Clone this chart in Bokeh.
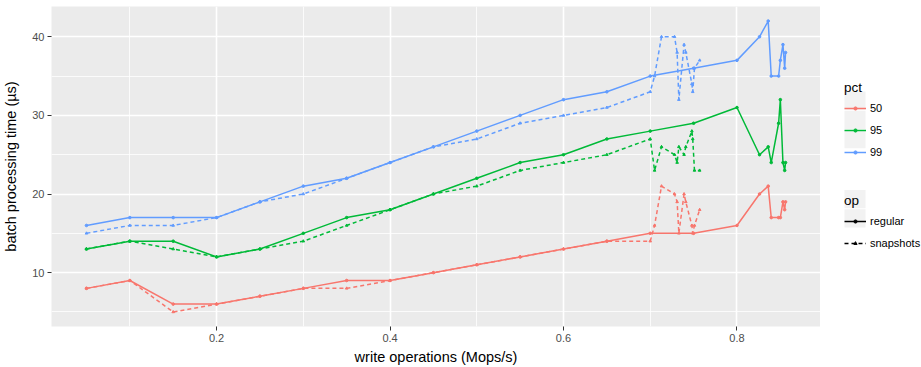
from bokeh.plotting import figure
from bokeh.layouts import row
from bokeh.models import Range1d, Legend, LegendItem, FixedTicker, ColumnDataSource
from bokeh.embed import file_html
from bokeh.resources import INLINE

# ---------------- data ----------------
pcts = ["50", "95", "99"]
ops = ["regular", "snapshots"]

x_regular = [0.05, 0.10, 0.15, 0.20, 0.25, 0.30, 0.35, 0.40, 0.45, 0.50, 0.55, 0.60,
             0.65, 0.70, 0.75, 0.80, 0.826, 0.836, 0.8395, 0.848, 0.850, 0.853, 0.855, 0.856]
p50_regular = [8, 9, 6, 6, 7, 8, 9, 9, 10, 11, 12, 13, 14, 15, 15, 16, 20, 21, 17, 17, 17, 19, 18, 19]
p95_regular = [13, 14, 14, 12, 13, 15, 17, 18, 20, 22, 24, 25, 27, 28, 29, 31, 25, 26, 24, 29, 32, 24, 23, 24]
p99_regular = [16, 17, 17, 17, 19, 21, 22, 24, 26, 28, 30, 32, 33, 35, 36, 37, 40, 42, 35, 35, 37, 39, 36, 38]

x_snapshots = [0.05, 0.10, 0.15, 0.20, 0.25, 0.30, 0.35, 0.40, 0.45, 0.50, 0.55, 0.60,
               0.65, 0.70, 0.705, 0.713, 0.728, 0.731, 0.733, 0.739, 0.741, 0.748, 0.749, 0.751, 0.757]
p50_snapshots = [8, 9, 5, 6, 7, 8, 8, 9, 10, 11, 12, 13, 14, 14, 16, 21, 20, 19, 15, 20, 19, 16, 15, 16, 18]
p95_snapshots = [13, 14, 13, 12, 13, 14, 16, 18, 20, 21, 23, 24, 25, 27, 23, 26, 25, 24, 26, 25, 26, 28, 27, 23, 23]
p99_snapshots = [15, 16, 16, 17, 19, 20, 22, 24, 26, 27, 29, 30, 31, 33, 35, 40, 40, 38, 32, 39, 38, 34, 33, 36, 37]

x_ticks = [0.2, 0.4, 0.6, 0.8]
x_minor = [0.1, 0.3, 0.5, 0.7]
y_ticks = [10, 20, 30, 40]
y_minor = [5, 15, 25, 35]

colors = {"50": "#F8766D", "95": "#00BA38", "99": "#619CFF"}
series = {
    ("50", "regular"): (x_regular, p50_regular),
    ("95", "regular"): (x_regular, p95_regular),
    ("99", "regular"): (x_regular, p99_regular),
    ("50", "snapshots"): (x_snapshots, p50_snapshots),
    ("95", "snapshots"): (x_snapshots, p95_snapshots),
    ("99", "snapshots"): (x_snapshots, p99_snapshots),
}

# ggplot-like 5% expansion
all_x = x_regular + x_snapshots
all_y = p50_regular + p95_regular + p99_regular + p50_snapshots + p95_snapshots + p99_snapshots
xr = max(all_x) - min(all_x)
yr = max(all_y) - min(all_y)

FONT = "Liberation Sans"
DASH = "4 3"
PT = 2.6

p = figure(width=820, height=367, output_backend="svg", toolbar_location=None,
           x_range=Range1d(min(all_x) - 0.05 * xr, max(all_x) + 0.05 * xr),
           y_range=Range1d(min(all_y) - 0.05 * yr, max(all_y) + 0.05 * yr),
           min_border_left=49, min_border_right=0, min_border_top=6, min_border_bottom=37)

p.background_fill_color = "#EBEBEB"
p.border_fill_color = "white"
p.outline_line_color = None

p.xaxis.ticker = FixedTicker(ticks=x_ticks, minor_ticks=x_minor)
p.yaxis.ticker = FixedTicker(ticks=y_ticks, minor_ticks=y_minor)
p.xaxis.major_label_overrides = {0.2: "0.2", 0.4: "0.4", 0.6: "0.6", 0.8: "0.8"}

for ax in (p.xaxis, p.yaxis):
    ax.axis_line_color = None
    ax.major_tick_in = 0
    ax.major_tick_out = 4
    ax.major_tick_line_color = "#333333"
    ax.major_tick_line_width = 1
    ax.minor_tick_in = 0
    ax.minor_tick_out = 0
    ax.major_label_text_font = FONT
    ax.major_label_text_font_size = "11px"
    ax.major_label_text_color = "#4D4D4D"
    ax.axis_label_text_font = FONT
    ax.axis_label_text_font_size = "14.5px"
    ax.axis_label_text_font_style = "normal"
    ax.axis_label_text_color = "black"

p.xaxis.axis_label = "write operations (Mops/s)"
p.yaxis.axis_label = "batch processing time (µs)"
p.xaxis.major_label_standoff = 3
p.yaxis.major_label_standoff = 3
p.xaxis.axis_label_standoff = 4
p.yaxis.axis_label_standoff = 10

for g in (p.xgrid, p.ygrid):
    g.grid_line_color = "white"
    g.grid_line_width = 1.6
    g.minor_grid_line_color = "white"
    g.minor_grid_line_width = 0.8

for op in ops:
    for pct in pcts:
        xs, ys = series[(pct, op)]
        src = ColumnDataSource(dict(x=xs, y=ys))
        dash = "solid" if op == "regular" else DASH
        marker = "circle" if op == "regular" else "triangle"
        p.line("x", "y", source=src, line_color=colors[pct], line_width=1.5, line_dash=dash)
        p.scatter("x", "y", source=src, marker=marker, size=PT,
                  fill_color=colors[pct], line_color=colors[pct])

# ---------------- legend figure (pixel coordinates, y down) ----------------
LW, LH = 101, 367
lf = figure(width=LW, height=LH, output_backend="svg", toolbar_location=None,
            x_axis_type=None, y_axis_type=None,
            x_range=Range1d(0, LW), y_range=Range1d(LH, 0),
            min_border_left=0, min_border_right=0, min_border_top=0, min_border_bottom=0)
lf.grid.visible = False
lf.outline_line_color = None
lf.background_fill_color = "white"
lf.border_fill_color = "white"

# grey key backgrounds behind the legend glyphs
KEY_LEFT, KEY_SIZE = 24, 21
key_centers = [108, 130, 152, 221, 243]
lf.quad(left=[KEY_LEFT] * len(key_centers), right=[KEY_LEFT + KEY_SIZE] * len(key_centers),
        top=[c - KEY_SIZE / 2 for c in key_centers], bottom=[c + KEY_SIZE / 2 for c in key_centers],
        fill_color="#F2F2F2", line_color=None)

NAN = float("nan")
pct_items = []
for pct in pcts:
    src = ColumnDataSource(dict(x=[NAN], y=[NAN]))
    ln = lf.line("x", "y", source=src, line_color=colors[pct], line_width=1.5)
    sc = lf.scatter("x", "y", source=src, marker="circle", size=PT, color=colors[pct])
    pct_items.append(LegendItem(label=pct, renderers=[ln, sc]))

op_items = []
for op in ops:
    src = ColumnDataSource(dict(x=[NAN], y=[NAN]))
    dash = "solid" if op == "regular" else DASH
    marker = "circle" if op == "regular" else "triangle"
    ln = lf.line("x", "y", source=src, line_color="black", line_width=1.5, line_dash=dash)
    sc = lf.scatter("x", "y", source=src, marker=marker, size=PT, color="black")
    op_items.append(LegendItem(label=op, renderers=[ln, sc]))


def make_legend(title, items, loc):
    return Legend(items=items, title=title, location=loc, orientation="vertical",
                  glyph_width=22, glyph_height=8, spacing=9, label_standoff=4,
                  label_height=13,
                  padding=0, margin=0, background_fill_alpha=0, border_line_alpha=0,
                  label_text_font=FONT, label_text_font_size="11px", label_text_color="black",
                  title_text_font=FONT, title_text_font_size="13.5px", title_text_font_style="normal",
                  title_text_color="black", title_standoff=6)


lf.add_layout(make_legend("pct", pct_items, (24, 168)))
lf.add_layout(make_legend("op", op_items, (24, 77)))

layout = row(p, lf, spacing=0)
open("out.html", "w").write(file_html(layout, INLINE))
